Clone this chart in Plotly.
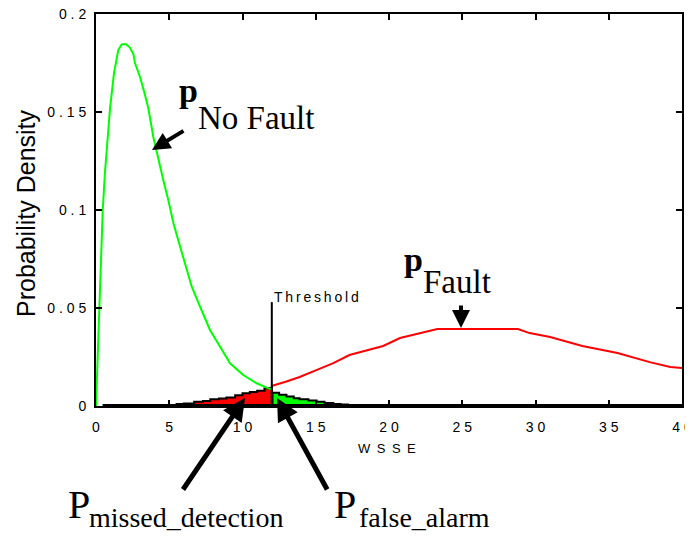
import plotly.graph_objects as go

# ---- data ----
NOFAULT_X = [0, 0.1, 0.2, 0.39, 0.46, 0.61, 0.8, 0.96, 1.23, 1.52, 1.75, 2.03, 2.3, 2.55, 2.66,
             3.0, 3.3, 3.57, 3.91, 4.25, 4.6, 4.94, 5.28, 5.6, 5.96, 6.53, 7.1, 7.78, 8.46,
             9.15, 10.05, 10.97, 11.77, 12.0]
NOFAULT_Y = [0, 0.024, 0.047, 0.0898, 0.1, 0.119, 0.138, 0.152, 0.170, 0.1816, 0.1845, 0.1847,
             0.183, 0.1796, 0.175, 0.168, 0.160, 0.152, 0.1374, 0.126, 0.115, 0.105, 0.0934,
             0.085, 0.0762, 0.061, 0.0507, 0.0388, 0.0303, 0.0218, 0.0158, 0.0116, 0.009, 0.0085]

FAULT_X = [12.0, 12.1, 13.0, 13.9, 15.0, 16.2, 17.3, 18.5, 19.6, 20.75, 21.9, 23.3, 25.0,
           28.8, 29.6, 31.0, 33.2, 35.6, 37.8, 39.2, 40.0]
FAULT_Y = [0.0102, 0.0105, 0.0125, 0.0148, 0.0182, 0.0219, 0.026, 0.0286, 0.0306, 0.0347,
           0.0367, 0.0393, 0.0393, 0.0393, 0.0372, 0.0352, 0.0306, 0.027, 0.0224, 0.0199, 0.0194]

MISSED_X = [5.5, 6.0, 6.7, 7.3, 7.8, 8.4, 8.9, 9.5, 10.0, 10.5, 11.0, 11.5, 12.0]
MISSED_Y = [0.001, 0.0013, 0.0022, 0.0026, 0.0034, 0.0038, 0.0044, 0.0055, 0.0065, 0.0071,
            0.0078, 0.0090, 0.0102]

FALSE_X = [12.05, 12.5, 13.0, 13.5, 13.9, 14.5, 15.06, 15.6, 16.2, 16.7, 17.2]
FALSE_Y = [0.0068, 0.0058, 0.0048, 0.0040, 0.0034, 0.0028, 0.0022, 0.0015, 0.0010, 0.0008, 0.0005]

THRESHOLD = 12
THRESHOLD_TOP = 0.053

X_TICKS = [0, 5, 10, 15, 20, 25, 30, 35, 40]
Y_TICKS = [0, 0.05, 0.1, 0.15, 0.2]
Y_TICK_LABELS = ["0", "0.05", "0.1", "0.15", "0.2"]

TS = "\u2009"  # thin space for letter spacing


def spaced(s, sep=TS):
    return sep.join(list(s))


fig = go.Figure()

# filled tails
fig.add_trace(go.Scatter(
    x=[MISSED_X[0]] + MISSED_X + [MISSED_X[-1]], y=[0] + MISSED_Y + [0],
    mode="lines", line=dict(color="black", width=2, shape="hv"),
    fill="toself", fillcolor="#FF0000", hoverinfo="skip"))
fig.add_trace(go.Scatter(
    x=[FALSE_X[0]] + FALSE_X + [FALSE_X[-1]], y=[0] + FALSE_Y + [0],
    mode="lines", line=dict(color="black", width=2, shape="hv"),
    fill="toself", fillcolor="#00FF00", hoverinfo="skip"))

# densities
fig.add_trace(go.Scatter(x=NOFAULT_X, y=NOFAULT_Y, mode="lines",
                         line=dict(color="#00FF00", width=2)))
fig.add_trace(go.Scatter(x=FAULT_X, y=FAULT_Y, mode="lines",
                         line=dict(color="#FF0000", width=2)))

# thick baseline
fig.add_trace(go.Scatter(x=[0.45, X_TICKS[-1]], y=[0, 0], mode="lines",
                         line=dict(color="black", width=4)))

fig.add_shape(type="line", x0=THRESHOLD, x1=THRESHOLD, y0=0, y1=THRESHOLD_TOP,
              line=dict(color="black", width=2))

serif = "Liberation Serif"
sans = "Liberation Sans"


def px_x(p):
    return (p - 96) / 586


def px_y(p):
    return (406 - p) / 392


ann = []
# p No Fault
ann.append(dict(x=px_x(177), y=px_y(91), xref="paper", yref="paper", text="<b>p</b>",
                showarrow=False, xanchor="left", yanchor="middle",
                font=dict(family=serif, size=34, color="black")))
ann.append(dict(x=px_x(196), y=px_y(118), xref="paper", yref="paper", text="No Fault",
                showarrow=False, xanchor="left", yanchor="middle",
                font=dict(family=serif, size=33, color="black")))
# p Fault
ann.append(dict(x=px_x(402), y=px_y(259), xref="paper", yref="paper", text="<b>p</b>",
                showarrow=False, xanchor="left", yanchor="middle",
                font=dict(family=serif, size=34, color="black")))
ann.append(dict(x=px_x(421), y=px_y(282), xref="paper", yref="paper", text="Fault",
                showarrow=False, xanchor="left", yanchor="middle",
                font=dict(family=serif, size=33, color="black")))
# P missed / false
ann.append(dict(x=px_x(66), y=px_y(505), xref="paper", yref="paper", text="P",
                showarrow=False, xanchor="left", yanchor="middle",
                font=dict(family=serif, size=40, color="black")))
ann.append(dict(x=px_x(86.5), y=px_y(518), xref="paper", yref="paper", text="missed_detection",
                showarrow=False, xanchor="left", yanchor="middle",
                font=dict(family=serif, size=28, color="black")))
ann.append(dict(x=px_x(332), y=px_y(505), xref="paper", yref="paper", text="P",
                showarrow=False, xanchor="left", yanchor="middle",
                font=dict(family=serif, size=40, color="black")))
ann.append(dict(x=px_x(356.5), y=px_y(518), xref="paper", yref="paper", text="false_alarm",
                showarrow=False, xanchor="left", yanchor="middle",
                font=dict(family=serif, size=28, color="black")))
# Threshold label
ann.append(dict(x=THRESHOLD, y=(406 - 297) / 1960, xref="x", yref="y", text=spaced("Threshold"),
                showarrow=False, xanchor="left", yanchor="middle",
                font=dict(family=sans, size=14, color="black")))
# axis titles
ann.append(dict(x=px_x(387), y=px_y(448.5), xref="paper", yref="paper",
                text="W\u2002S\u2002S\u2002E", showarrow=False, xanchor="center", yanchor="middle",
                font=dict(family=sans, size=13, color="black")))
ann.append(dict(x=px_x(26), y=px_y(213), xref="paper", yref="paper",
                text="Probability Density", textangle=-90, showarrow=False,
                xanchor="center", yanchor="middle",
                font=dict(family=sans, size=25, color="black")))

# arrows
arrow_common = dict(xref="x", yref="y", text="", showarrow=True, arrowhead=2,
                    arrowcolor="black", axref="pixel", ayref="pixel")
ann.append(dict(x=(152 - 96) / 14.65, y=(406 - 150) / 1960, ax=33, ay=-20,
                arrowwidth=4, arrowsize=0.9, **arrow_common))
ann.append(dict(x=(461 - 96) / 14.65, y=(406 - 328) / 1960, ax=0, ay=-24,
                arrowwidth=4, arrowsize=0.9, **arrow_common))
ann.append(dict(x=(245 - 96) / 14.65, y=(406 - 398) / 1960, ax=-63, ay=93,
                arrowwidth=5, arrowsize=0.9, **arrow_common))
ann.append(dict(x=(277 - 96) / 14.65, y=(406 - 398) / 1960, ax=51, ay=93,
                arrowwidth=5, arrowsize=0.9, **arrow_common))

# page body adds an 8px offset; size the figure so the plot lands where the reference has it
fig.update_layout(
    width=685, height=530,
    margin=dict(l=88, r=11, t=6, b=132, autoexpand=False),
    paper_bgcolor="white", plot_bgcolor="white",
    showlegend=False,
    annotations=ann,
    xaxis=dict(range=[0, 40], tickvals=X_TICKS, ticktext=[spaced(str(v), " ") for v in X_TICKS],
               ticks="inside", ticklen=6, tickwidth=1.5, tickcolor="black",
               showline=True, linecolor="black", linewidth=2, mirror="ticks",
               showgrid=False, zeroline=False, ticklabelstandoff=7, automargin=False,
               ticklabeloverflow="allow",
               tickfont=dict(family=sans, size=14, color="black")),
    yaxis=dict(range=[0, 0.2], tickvals=Y_TICKS, ticktext=[spaced(t, " ") for t in Y_TICK_LABELS],
               ticks="inside", ticklen=6, tickwidth=1.5, tickcolor="black",
               showline=True, linecolor="black", linewidth=2, mirror="ticks",
               showgrid=False, zeroline=False, ticklabelstandoff=5, automargin=False,
               ticklabeloverflow="allow",
               tickfont=dict(family=sans, size=14, color="black")),
)

fig.write_html("out.html")
